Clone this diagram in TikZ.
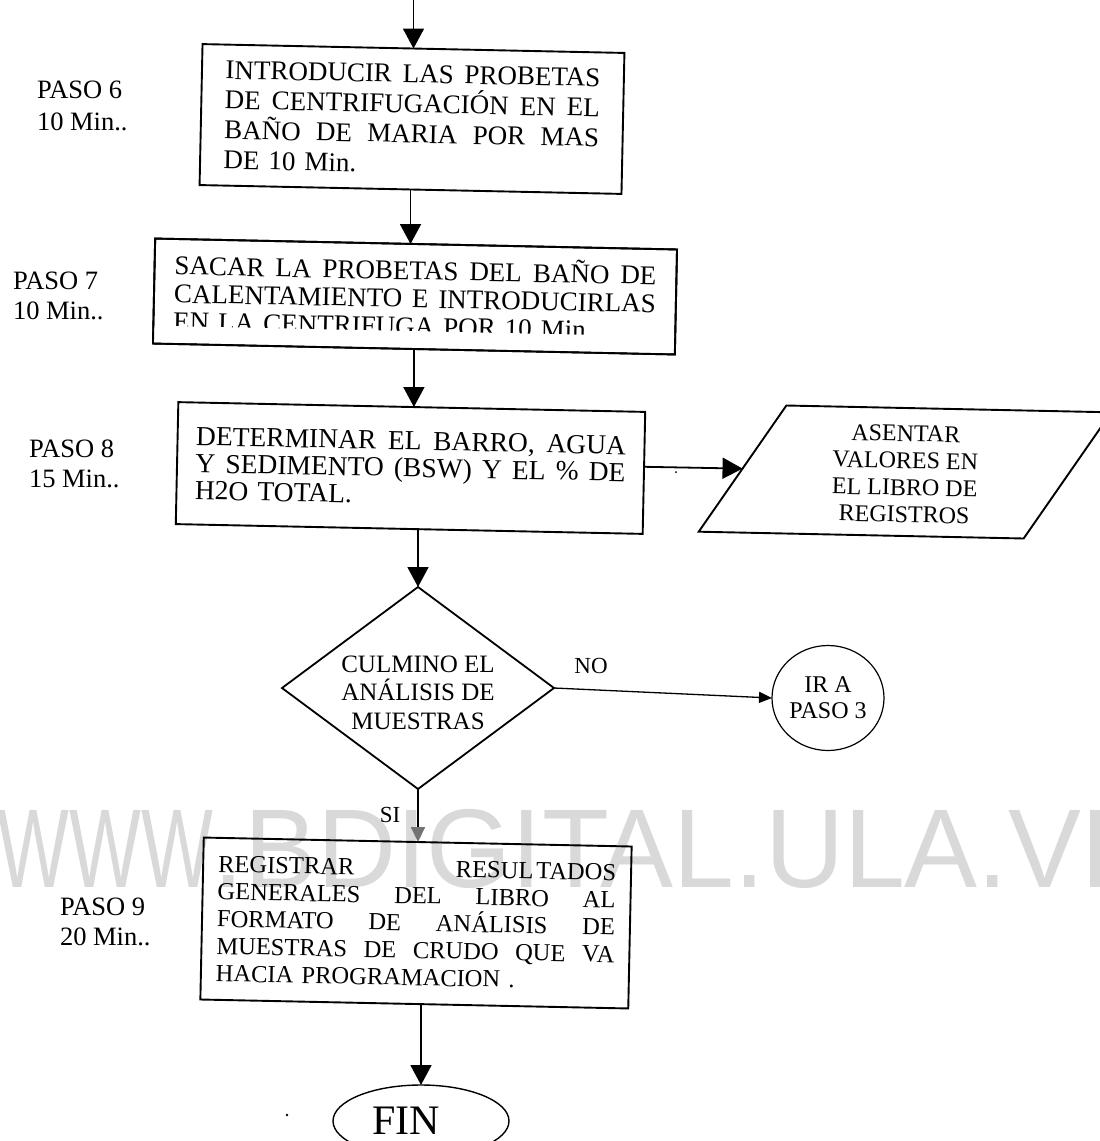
\documentclass[tikz,border=0pt]{standalone}
\usepackage{graphicx}
\usepackage{fontspec}
\setmainfont{Liberation Serif}
\newfontfamily\wmfont{Liberation Sans}
\usetikzlibrary{shapes.geometric,arrows.meta,calc}
% one fully justified line of a box text: width, words separated by \hfill
\newcommand\jline[2]{\leavevmode\hbox to #1{#2}}

\begin{document}
\begin{tikzpicture}[x=1pt,y=-1pt,
  every node/.style={inner sep=0pt, outer sep=0pt},
  stepbox/.style={draw, line width=1.9pt, rotate=-1.2, align=left},
  lab/.style={align=left, anchor=west, font=\fontsize{26.5}{30}\selectfont},
  tag/.style={font=\fontsize{23}{23}\selectfont},
  arr/.style={line width=1.8pt, -{Triangle[length=20pt,width=21pt]}},
]
\useasboundingbox (0,0) rectangle (1100,1141);

% background watermark
\node[anchor=base west, text=black!15, font=\wmfont\fontsize{112}{112}\selectfont] (wm) at (-2,887)
  {\scalebox{0.68}[1]{WWW}\scalebox{0.977}[1]{.BDIGITAL.ULA.VE}};

% process steps
\node[stepbox, text width=375pt, minimum width=422pt, minimum height=141pt,
      font=\fontsize{27}{30}\selectfont] (b1) at (412,119)
  {\jline{375pt}{INTRODUCIR\hfill LAS\hfill PROBETAS}\\
   \jline{375pt}{DE\hfill CENTRIFUGACIÓN\hfill EN\hfill EL}\\
   \jline{375pt}{BAÑO\hfill DE\hfill MARIA\hfill POR\hfill MAS}\\
   DE 10 Min.};

\node[stepbox, text width=482pt, minimum width=522pt, minimum height=105pt,
      font=\fontsize{27}{28}\selectfont] (b2) at (415,296.5)
  {\jline{482pt}{SACAR\hfill LA\hfill PROBETAS\hfill DEL\hfill BAÑO\hfill DE}\\
   \jline{482pt}{CALENTAMIENTO\hfill E\hfill INTRODUCIRLAS}\\
   EN LA CENTRIFUGA POR 10 Min};
% lower part of the last line is hidden by the frame
\fill[white] ($(b2.south west)!0.012!(b2.north west)$) -- ($(b2.south east)!0.012!(b2.north east)$)
  -- ($(b2.south east)!0.17!(b2.north east)$) -- ($(b2.south west)!0.17!(b2.north west)$) -- cycle;
\draw[line width=1.9pt] (b2.south west) -- (b2.south east) -- (b2.north east) -- (b2.north west) -- cycle;

\node[stepbox, text width=430pt, minimum width=467pt, minimum height=122pt,
      font=\fontsize{27.5}{27}\selectfont] (b3) at (410.5,468)
  {\jline{430pt}{DETERMINAR\hfill EL\hfill BARRO,\hfill AGUA}\\
   \jline{430pt}{Y\hfill SEDIMENTO\hfill (BSW)\hfill Y\hfill EL\hfill \%\hfill DE}\\
   H2O TOTAL.};

% input/output record
\node[rotate=-1.2, align=center, font=\fontsize{24}{27}\selectfont] (para) at (905,474)
  {ASENTAR\\VALORES EN\\EL LIBRO DE\\REGISTROS};
\begin{scope}[shift={(905,472)}, rotate=-1.2]
  \draw[line width=1.9pt, line join=miter] (-205,64) -- (-120,-64) -- (205,-64) -- (120,64) -- cycle;
  \coordinate (paraW) at (-162.5,0);
\end{scope}

\node[diamond, aspect=1.35, draw, line width=1.8pt, minimum width=272pt, minimum height=202pt,
      align=center, font=\fontsize{25}{28.5}\selectfont] (dia) at (418,688)
  {\rule{0pt}{26pt}CULMINO EL\\ANÁLISIS DE\\MUESTRAS};

\node[ellipse, draw, line width=1.2pt, minimum width=112pt, minimum height=105pt,
      align=center, font=\fontsize{24}{26}\selectfont] (go) at (828,698)
  {IR A\\PASO 3};

\node[stepbox, text width=398pt, minimum width=428pt, minimum height=162pt,
      font=\fontsize{24.5}{27.3}\selectfont] (b4) at (416,923)
  {\jline{398pt}{REGISTRAR\hfill RESUL\kern3pt TADOS}\\
   \jline{398pt}{GENERALES\hfill DEL\hfill LIBRO\hfill AL}\\
   \jline{398pt}{FORMATO\hfill DE\hfill ANÁLISIS\hfill DE}\\
   \jline{398pt}{MUESTRAS\hfill DE\hfill CRUDO\hfill QUE\hfill VA}\\
   HACIA PROGRAMACION .};

\node[ellipse, draw, line width=1.4pt, minimum width=176pt, minimum height=72pt,
      font=\fontsize{42}{42}\selectfont] (fin) at (421,1121) {FIN\rule{30pt}{0pt}};

% step labels
\node[lab, font=\fontsize{26.5}{32}\selectfont] (p6) at (37,105.5) {PASO 6\\10 Min..};
\node[lab] (p7) at (13,296) {PASO 7\\10 Min..};
\node[lab] (p8) at (29,464) {PASO 8\\15 Min..};
\node[lab] (p9) at (60,922) {PASO 9\\20 Min..};

% branch labels
\node[tag] (no) at (591,666) {NO};
\node[tag] (si) at (390,815) {SI};

% connectors
\coordinate (start) at (413.5,0);
\draw[arr] (start) -- (start |- b1.north);
\draw[arr] (b1.south) -- (b1.south |- b2.north);
\draw[arr] (b2.south) -- (b2.south |- b3.north);
\draw[arr] ($(b3.north east)!0.45!(b3.south east)$) -- (paraW);
\draw[arr] (dia.north |- b3.south) -- (dia.north);
\draw[line width=1.3pt, -{Triangle[length=13pt,width=11pt]}] (dia.east) -- (go.west);
\draw[line width=1.8pt, -{Triangle[length=15pt,width=14pt,color=black!55]}] (dia.south) -- (dia.south |- b4.north);
\draw[arr] (fin.north |- b4.south) -- (fin.north);

% specks
\fill (287,1115) circle (1.3pt);
\fill (676,472) circle (1pt);
\end{tikzpicture}
\end{document}
